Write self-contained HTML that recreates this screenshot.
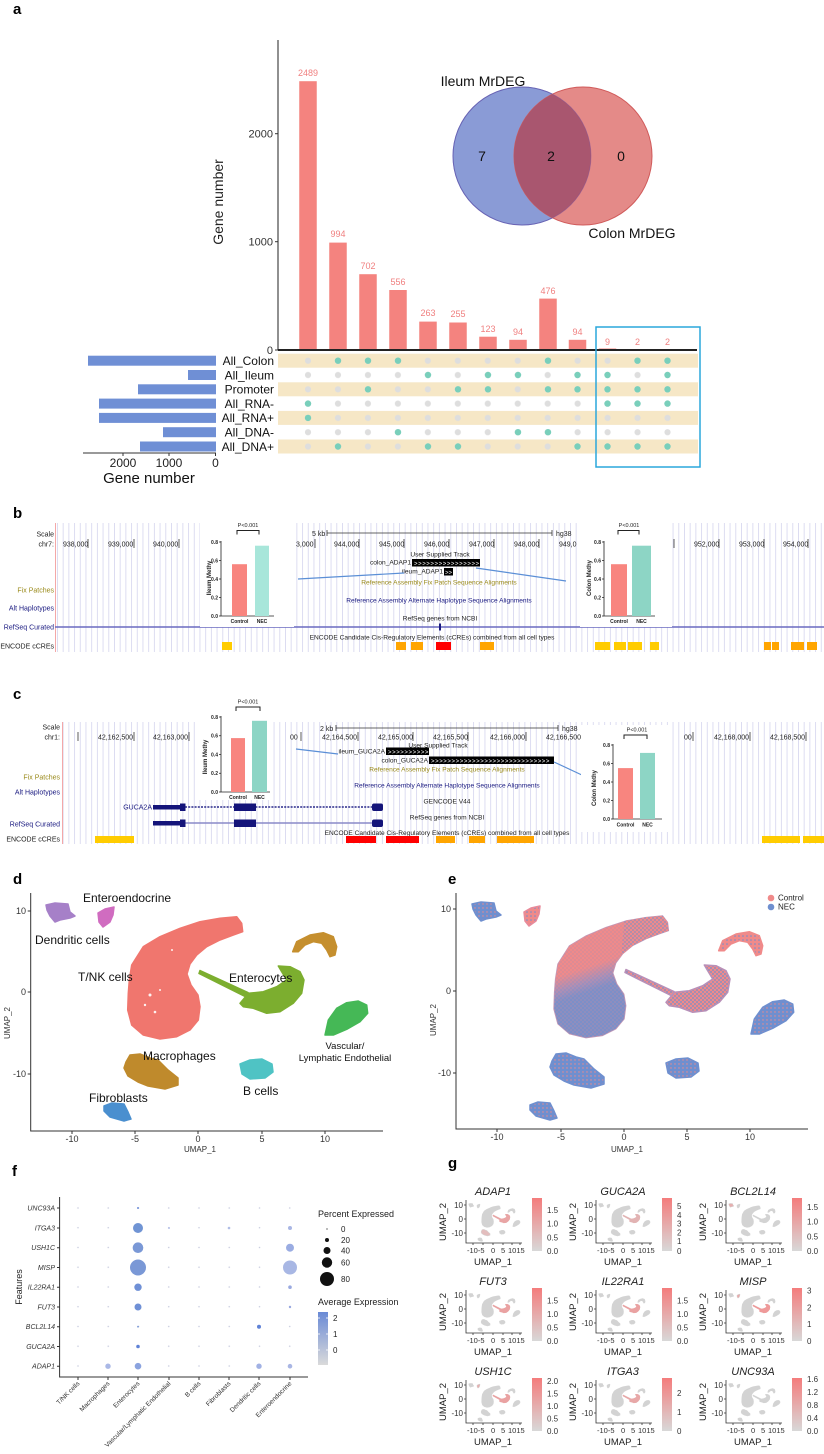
<!DOCTYPE html>
<html><head><meta charset="utf-8"><style>
html,body{margin:0;padding:0;background:#fff;}
svg{display:block;font-family:"Liberation Sans",Arial,sans-serif;}
</style></head><body>
<svg width="824" height="1454" viewBox="0 0 824 1454" xmlns="http://www.w3.org/2000/svg" xmlns:xlink="http://www.w3.org/1999/xlink">
<defs>
  <pattern id="gb" x="0" y="0" width="5.7" height="10" patternUnits="userSpaceOnUse"><rect x="0" y="0" width="0.9" height="10" fill="#d9d9f0"/></pattern>
  <pattern id="gdots" x="293" y="353.55" width="29.96" height="14.3" patternUnits="userSpaceOnUse"><circle cx="15" cy="7.15" r="3.1" fill="#dedede"/></pattern>
  <pattern id="fdots" x="63" y="1198" width="30.25" height="19.75" patternUnits="userSpaceOnUse"><circle cx="15" cy="10" r="0.7" fill="#c4c8dc"/></pattern>
  <pattern id="mixB" x="0" y="0" width="4" height="4" patternUnits="userSpaceOnUse"><rect width="4" height="4" fill="#6f8fcf"/><circle cx="1" cy="1" r="0.7" fill="#f08a8a"/></pattern>
  <pattern id="mixS" x="0" y="0" width="4" height="4" patternUnits="userSpaceOnUse"><rect width="4" height="4" fill="#f08a8a"/><circle cx="1" cy="1" r="0.8" fill="#6f8fcf"/></pattern>
  <pattern id="mixM" x="0" y="0" width="4" height="4" patternUnits="userSpaceOnUse"><rect width="4" height="4" fill="#f08a8a"/><circle cx="1" cy="1" r="0.9" fill="#6f8fcf"/><circle cx="3" cy="3" r="0.9" fill="#6f8fcf"/></pattern>
  <linearGradient id="tnkE" gradientUnits="userSpaceOnUse" x1="150" y1="930" x2="175" y2="1005">
    <stop offset="0" stop-color="#f08a8a"/><stop offset="0.5" stop-color="#f08a8a"/><stop offset="0.68" stop-color="#9c90c0"/><stop offset="0.8" stop-color="#6f8fcf"/><stop offset="1" stop-color="#6f8fcf"/>
  </linearGradient>
  <linearGradient id="fcb" x1="0" y1="0" x2="0" y2="1"><stop offset="0" stop-color="#6a8ad6"/><stop offset="1" stop-color="#dadada"/></linearGradient>
  <linearGradient id="gcb" x1="0" y1="0" x2="0" y2="1"><stop offset="0" stop-color="#f47c7c"/><stop offset="1" stop-color="#d8d8d8"/></linearGradient>
  <clipPath id="blueC"><circle cx="522" cy="156" r="69"/></clipPath>
  <clipPath id="tailC"><path d="M200,900 L260,900 L260,960 L195,960 Z"/></clipPath>

  <path id="tnk" d="M131.7,965 L143.3,946.7 L160,936.7 L180,928.3 L200,921.7 L220,918.3 L236.7,916.7 L241.7,923.3 L242.7,931.7 L233.3,935 L220,940 L206.7,946.7 L196.7,955 L190,964 L187,974 L191,985 L198,995 L200,1006.7 L198.3,1020 L190,1030 L176.7,1036.7 L160,1039 L143.3,1035 L131.7,1025 L127.7,1010 L128.3,993.3 L129.3,980 Z"/>
  <path id="ent" d="M200,970.5 L248,992.5 L246,997 L199,973.5 Z M240,1003.3 L248.3,993.3 L263.3,991.7 L276.7,986.7 L286.7,980 L281.7,971.7 L278.3,966 L290,966.7 L300,971.7 L304,980 L301.7,993.3 L293.3,1003.3 L280,1011.7 L266.7,1013.3 L253.3,1008.3 L243.3,1006.7 Z"/>
  <path id="brn" d="M292.7,951.7 L296.7,941.7 L310,935 L323.3,932.7 L333.3,936.7 L336.7,946.7 L335,955 L330,956.7 L326.7,950 L321.7,943.3 L313.3,941.7 L305,945 L298.3,951.7 Z"/>
  <path id="vas" d="M325,1035 L328.3,1020 L336.7,1008.3 L346.7,1002.7 L358.3,1001 L366.7,1005 L367.7,1013.3 L360,1021.7 L346.7,1029.3 L333.3,1035 Z"/>
  <path id="mac" d="M126,1062 L130,1055 L140,1054 L150,1058 L158,1060 L168,1070 L178,1078 L178,1085 L165,1089 L148,1086 L138,1082 L128,1076 L124,1068 Z"/>
  <path id="bce" d="M240,1064 L250,1060 L262,1059 L272,1064 L273,1072 L265,1078 L250,1079 L242,1074 Z"/>
  <path id="fib" d="M104,1106 L112,1103 L124,1104 L128,1112 L131,1119 L124,1121 L110,1117 L104,1111 Z"/>
  <path id="den" d="M46,905 L55,903 L68,904 L70,912 L75,916 L70,918 L60,920 L55,922 L50,916 L47,910 Z"/>
  <path id="eed" d="M98,913 L105,909 L114,907 L113,915 L110,922 L103,927 L99,922 Z"/>
  <g id="miniGrey" fill="#d3d3d3" stroke="#d3d3d3" stroke-width="6" stroke-linejoin="round">
    <use href="#tnk"/><use href="#ent"/><use href="#brn"/><use href="#vas"/><use href="#mac"/><use href="#bce"/><use href="#fib"/><use href="#den"/><use href="#eed"/>
  </g>
  <g id="miniHi" fill="#ef9a9a" stroke="#ef9a9a" stroke-width="6" stroke-linejoin="round"><use href="#ent"/></g>
</defs>

<!-- ================= PANEL A ================= -->
<text x="13" y="14" font-size="15" font-weight="bold">a</text>
<line x1="278" y1="40" x2="278" y2="350" stroke="#222" stroke-width="1"/>
<g stroke="#333" stroke-width="1"><line x1="275" y1="133.7" x2="278" y2="133.7"/><line x1="275" y1="241.7" x2="278" y2="241.7"/><line x1="275" y1="350" x2="278" y2="350"/></g>
<g font-size="11" fill="#333" text-anchor="end"><text x="273" y="137.5">2000</text><text x="273" y="245.5">1000</text><text x="273" y="354">0</text></g>
<text transform="translate(223,202) rotate(-90)" font-size="14" text-anchor="middle" fill="#222">Gene number</text>

<g fill="#f4837f">
<rect x="299.25" y="81.2" width="17.5" height="268.8"/>
<rect x="329.25" y="242.6" width="17.5" height="107.4"/>
<rect x="359.25" y="274.2" width="17.5" height="75.8"/>
<rect x="389.25" y="290" width="17.5" height="60"/>
<rect x="419.25" y="321.6" width="17.5" height="28.4"/>
<rect x="449.25" y="322.5" width="17.5" height="27.5"/>
<rect x="479.25" y="336.7" width="17.5" height="13.3"/>
<rect x="509.25" y="339.8" width="17.5" height="10.2"/>
<rect x="539.25" y="298.6" width="17.5" height="51.4"/>
<rect x="568.75" y="339.8" width="17.5" height="10.2"/>
<rect x="598.75" y="348.5" width="17.5" height="1.5"/>
</g>
<g font-size="9" fill="#f08080" text-anchor="middle">
<text x="308" y="76">2489</text><text x="338" y="237">994</text><text x="368" y="269">702</text><text x="398" y="285">556</text>
<text x="428" y="316">263</text><text x="458" y="317">255</text><text x="488" y="332">123</text><text x="518" y="335">94</text>
<text x="548" y="294">476</text><text x="577.5" y="335">94</text><text x="607.5" y="345">9</text><text x="637.5" y="345">2</text><text x="667.5" y="345">2</text>
</g>
<line x1="278" y1="350" x2="697" y2="350" stroke="#222" stroke-width="2"/>

<!-- Venn -->
<circle cx="522" cy="156" r="69" fill="#8a9bd6" stroke="#5e73c8" stroke-width="1"/>
<circle cx="583" cy="156" r="69" fill="#e48a88" stroke="#d05a5a" stroke-width="1"/>
<circle cx="583" cy="156" r="69" fill="#a9566f" clip-path="url(#blueC)"/>
<circle cx="522" cy="156" r="69" fill="none" stroke="#7a4f9a" stroke-width="0.8" opacity="0.5"/>
<g font-size="14" fill="#111" text-anchor="middle">
<text x="483" y="86">Ileum MrDEG</text><text x="632" y="238">Colon MrDEG</text>
<text x="482" y="161">7</text><text x="551" y="161">2</text><text x="621" y="161">0</text>
</g>

<!-- matrix -->
<g fill="#f6e7c6">
<rect x="278" y="353.7" width="420" height="14"/>
<rect x="278" y="382.3" width="420" height="14"/>
<rect x="278" y="410.9" width="420" height="14"/>
<rect x="278" y="439.5" width="420" height="14"/>
</g>
<rect x="293" y="353.55" width="390" height="100.1" fill="url(#gdots)"/>
<g fill="#79cfbb">
<circle cx="338" cy="360.7" r="3.2"/><circle cx="368" cy="360.7" r="3.2"/><circle cx="398" cy="360.7" r="3.2"/><circle cx="548" cy="360.7" r="3.2"/><circle cx="637.5" cy="360.7" r="3.2"/><circle cx="667.5" cy="360.7" r="3.2"/>
<circle cx="428" cy="375" r="3.2"/><circle cx="488" cy="375" r="3.2"/><circle cx="518" cy="375" r="3.2"/><circle cx="577.5" cy="375" r="3.2"/><circle cx="607.5" cy="375" r="3.2"/><circle cx="667.5" cy="375" r="3.2"/>
<circle cx="368" cy="389.3" r="3.2"/><circle cx="458" cy="389.3" r="3.2"/><circle cx="488" cy="389.3" r="3.2"/><circle cx="548" cy="389.3" r="3.2"/><circle cx="577.5" cy="389.3" r="3.2"/><circle cx="607.5" cy="389.3" r="3.2"/><circle cx="637.5" cy="389.3" r="3.2"/><circle cx="667.5" cy="389.3" r="3.2"/>
<circle cx="308" cy="403.6" r="3.2"/><circle cx="607.5" cy="403.6" r="3.2"/><circle cx="637.5" cy="403.6" r="3.2"/><circle cx="667.5" cy="403.6" r="3.2"/>
<circle cx="308" cy="417.9" r="3.2"/>
<circle cx="398" cy="432.2" r="3.2"/><circle cx="518" cy="432.2" r="3.2"/><circle cx="548" cy="432.2" r="3.2"/>
<circle cx="338" cy="446.5" r="3.2"/><circle cx="428" cy="446.5" r="3.2"/><circle cx="458" cy="446.5" r="3.2"/><circle cx="577.5" cy="446.5" r="3.2"/><circle cx="607.5" cy="446.5" r="3.2"/><circle cx="637.5" cy="446.5" r="3.2"/><circle cx="667.5" cy="446.5" r="3.2"/>
</g>
<g font-size="12" fill="#111" text-anchor="end">
<text x="274" y="365">All_Colon</text><text x="274" y="379.3">All_Ileum</text><text x="274" y="393.6">Promoter</text>
<text x="274" y="407.9">All_RNA-</text><text x="274" y="422.2">All_RNA+</text><text x="274" y="436.5">All_DNA-</text><text x="274" y="450.8">All_DNA+</text>
</g>
<g fill="#6f8fd5">
<rect x="88" y="355.7" width="128" height="10"/>
<rect x="188" y="370" width="28" height="10"/>
<rect x="138" y="384.3" width="78" height="10"/>
<rect x="99" y="398.6" width="117" height="10"/>
<rect x="99" y="412.9" width="117" height="10"/>
<rect x="163" y="427.2" width="53" height="10"/>
<rect x="140" y="441.5" width="76" height="10"/>
</g>
<line x1="83" y1="453" x2="216" y2="453" stroke="#333" stroke-width="1"/>
<g stroke="#333"><line x1="123" y1="453" x2="123" y2="456"/><line x1="169" y1="453" x2="169" y2="456"/><line x1="215.5" y1="453" x2="215.5" y2="456"/></g>
<g font-size="12" fill="#222" text-anchor="middle"><text x="123" y="467">2000</text><text x="169" y="467">1000</text><text x="215.5" y="467">0</text></g>
<text x="149" y="483" font-size="15" text-anchor="middle" fill="#111">Gene number</text>
<rect x="596" y="327" width="104" height="140" fill="none" stroke="#2aa7dc" stroke-width="1.5"/>

<!-- ================= PANEL B ================= -->
<text x="13" y="518" font-size="15" font-weight="bold">b</text>
<rect x="55" y="523" width="769" height="129" fill="url(#gb)"/>
<line x1="55.5" y1="523" x2="55.5" y2="652" stroke="#f4a8a8" stroke-width="1"/>
<g font-size="7" text-anchor="end">
<text x="54" y="536.5" fill="#222">Scale</text><text x="54" y="546.5" fill="#222">chr7:</text>
<text x="54" y="592.5" fill="#9a8a1a">Fix Patches</text><text x="54" y="610.5" fill="#1a1a80">Alt Haplotypes</text>
<text x="54" y="629.5" fill="#1a1a80">RefSeq Curated</text><text x="54" y="648.5" fill="#222">ENCODE cCREs</text>
</g>
<line x1="55" y1="627" x2="824" y2="627" stroke="#6a6ac0" stroke-width="1.6"/>
<rect x="439" y="623.5" width="2" height="7" fill="#1a1a80"/>
<g font-size="7" fill="#222">
<text x="63" y="546.5">938,000</text><text x="108" y="546.5">939,000</text><text x="153" y="546.5">940,000</text>
<text x="296" y="546.5">3,000</text><text x="334" y="546.5">944,000</text><text x="379" y="546.5">945,000</text><text x="424" y="546.5">946,000</text>
<text x="469" y="546.5">947,000</text><text x="514" y="546.5">948,000</text><text x="559" y="546.5">949,0</text>
<text x="694" y="546.5">952,000</text><text x="739" y="546.5">953,000</text><text x="783" y="546.5">954,000</text>
<text x="312" y="536">5 kb</text><text x="556" y="536">hg38</text>
</g>
<g stroke="#333" stroke-width="0.8">
<line x1="88" y1="539" x2="88" y2="548"/><line x1="134" y1="539" x2="134" y2="548"/><line x1="179" y1="539" x2="179" y2="548"/>
<line x1="315" y1="539" x2="315" y2="548"/><line x1="359" y1="539" x2="359" y2="548"/><line x1="404" y1="539" x2="404" y2="548"/><line x1="449" y1="539" x2="449" y2="548"/>
<line x1="494" y1="539" x2="494" y2="548"/><line x1="539" y1="539" x2="539" y2="548"/><line x1="674" y1="539" x2="674" y2="548"/>
<line x1="719" y1="539" x2="719" y2="548"/><line x1="764" y1="539" x2="764" y2="548"/><line x1="808" y1="539" x2="808" y2="548"/>
<path d="M327,530 V536 M327,533 H552 M552,530 V536" fill="none"/>
</g>
<g font-size="6.6" text-anchor="middle">
<text x="440" y="556.5" fill="#222">User Supplied Track</text>
<text x="439" y="584.5" fill="#9a8a1a">Reference Assembly Fix Patch Sequence Alignments</text>
<text x="439" y="602.5" fill="#1a1a80">Reference Assembly Alternate Haplotype Sequence Alignments</text>
<text x="440" y="620.5" fill="#222">RefSeq genes from NCBI</text>
<text x="432" y="639.5" fill="#222">ENCODE Candidate Cis-Regulatory Elements (cCREs) combined from all cell types</text>
</g>
<g font-size="6.6" fill="#222" text-anchor="end"><text x="411" y="564.5">colon_ADAP1</text><text x="443" y="573.5">ileum_ADAP1</text></g>
<rect x="412" y="559" width="68" height="7.5" fill="#000"/>
<rect x="444" y="568" width="9" height="7.5" fill="#000"/>
<text x="414" y="565.5" font-size="6" fill="#fff" letter-spacing="0.6">&gt;&gt;&gt;&gt;&gt;&gt;&gt;&gt;&gt;&gt;&gt;&gt;&gt;&gt;&gt;&gt;</text>
<text x="445" y="574.5" font-size="6" fill="#fff">&gt;&gt;</text>
<g>
<rect x="222" y="642" width="10" height="8" fill="#ffcc00"/>
<rect x="396" y="642" width="10" height="8" fill="#ffa500"/><rect x="411" y="642" width="12" height="8" fill="#ffa500"/>
<rect x="436" y="642" width="15" height="8" fill="#ff0000"/><rect x="480" y="642" width="14" height="8" fill="#ffa500"/>
<rect x="595" y="642" width="15" height="8" fill="#ffcc00"/><rect x="614" y="642" width="12" height="8" fill="#ffcc00"/><rect x="628" y="642" width="14" height="8" fill="#ffcc00"/><rect x="650" y="642" width="9" height="8" fill="#ffcc00"/>
<rect x="764" y="642" width="7" height="8" fill="#ffa500"/><rect x="772" y="642" width="7" height="8" fill="#ffa500"/><rect x="791" y="642" width="13" height="8" fill="#ffa500"/><rect x="807" y="642" width="10" height="8" fill="#ffa500"/>
</g>
<g stroke="#5b8fd6" stroke-width="1.2"><line x1="298" y1="579" x2="404" y2="573"/><line x1="476" y1="568" x2="566" y2="581"/></g>
<!-- b left inset -->
<rect x="200" y="521" width="94" height="106" fill="#fff"/>
<g stroke="#222" stroke-width="0.8" fill="none"><path d="M221,541 V616 H274"/>
<path d="M219,542 H221 M219,560.5 H221 M219,579 H221 M219,597.5 H221 M219,616 H221"/>
<path d="M237,534.5 V530.5 H259 V534.5" stroke-width="1"/></g>
<g font-size="5" font-weight="bold" fill="#222" text-anchor="end"><text x="218" y="544">0.8</text><text x="218" y="562.5">0.6</text><text x="218" y="581">0.4</text><text x="218" y="599.5">0.2</text><text x="218" y="618">0.0</text></g>
<rect x="232" y="564.2" width="15" height="51.8" fill="#f8857f"/>
<rect x="255" y="545.7" width="14" height="70.3" fill="#a8e6da"/>
<g font-size="5" font-weight="bold" fill="#222" text-anchor="middle"><text x="239.5" y="623">Control</text><text x="262" y="623">NEC</text></g>
<text x="248" y="527" font-size="5.5" fill="#222" text-anchor="middle">P&lt;0.001</text>
<text transform="translate(211,578) rotate(-90)" font-size="6" font-weight="bold" fill="#222" text-anchor="middle">Ileum Methy</text>
<!-- b right inset -->
<rect x="580" y="521" width="92" height="106" fill="#fff"/>
<g stroke="#222" stroke-width="0.8" fill="none"><path d="M604,541 V616 H655"/>
<path d="M602,542 H604 M602,560.5 H604 M602,579 H604 M602,597.5 H604 M602,616 H604"/>
<path d="M618,534.5 V530.5 H639 V534.5" stroke-width="1"/></g>
<g font-size="5" font-weight="bold" fill="#222" text-anchor="end"><text x="601" y="544">0.8</text><text x="601" y="562.5">0.6</text><text x="601" y="581">0.4</text><text x="601" y="599.5">0.2</text><text x="601" y="618">0.0</text></g>
<rect x="611" y="564.2" width="16" height="51.8" fill="#f8857f"/>
<rect x="632" y="545.7" width="19" height="70.3" fill="#8dd5c5"/>
<g font-size="5" font-weight="bold" fill="#222" text-anchor="middle"><text x="619" y="623">Control</text><text x="641.5" y="623">NEC</text></g>
<text x="629" y="527" font-size="5.5" fill="#222" text-anchor="middle">P&lt;0.001</text>
<text transform="translate(591,578) rotate(-90)" font-size="6" font-weight="bold" fill="#222" text-anchor="middle">Colon Methy</text>

<!-- ================= PANEL C ================= -->
<text x="13" y="699" font-size="15" font-weight="bold">c</text>
<rect x="62" y="722" width="762" height="122" fill="url(#gb)"/>
<line x1="62.5" y1="722" x2="62.5" y2="844" stroke="#f4a8a8" stroke-width="1"/>
<g font-size="7" text-anchor="end">
<text x="60" y="729.5" fill="#222">Scale</text><text x="60" y="739.5" fill="#222">chr1:</text>
<text x="60" y="779.5" fill="#9a8a1a">Fix Patches</text><text x="60" y="794.5" fill="#1a1a80">Alt Haplotypes</text>
<text x="60" y="826.5" fill="#1a1a80">RefSeq Curated</text><text x="60" y="841.5" fill="#222">ENCODE cCREs</text>
</g>
<g font-size="7" fill="#222">
<text x="98" y="739.5">42,162,500</text><text x="153" y="739.5">42,163,000</text><text x="290" y="739.5">00</text>
<text x="322" y="739.5">42,164,500</text><text x="378" y="739.5">42,165,000</text><text x="433" y="739.5">42,165,500</text>
<text x="490" y="739.5">42,166,000</text><text x="546" y="739.5">42,166,500</text><text x="684" y="739.5">00</text>
<text x="714" y="739.5">42,168,000</text><text x="770" y="739.5">42,168,500</text>
<text x="320" y="731">2 kb</text><text x="562" y="731">hg38</text>
</g>
<g stroke="#333" stroke-width="0.8">
<line x1="78" y1="732" x2="78" y2="741"/><line x1="134" y1="732" x2="134" y2="741"/><line x1="189" y1="732" x2="189" y2="741"/>
<line x1="301" y1="732" x2="301" y2="741"/><line x1="358" y1="732" x2="358" y2="741"/><line x1="413" y1="732" x2="413" y2="741"/>
<line x1="468" y1="732" x2="468" y2="741"/><line x1="526" y1="732" x2="526" y2="741"/><line x1="693" y1="732" x2="693" y2="741"/>
<line x1="750" y1="732" x2="750" y2="741"/><line x1="806" y1="732" x2="806" y2="741"/>
<path d="M336,725 V731 M336,728 H558 M558,725 V731" fill="none"/>
</g>
<g font-size="6.6" text-anchor="middle">
<text x="438" y="747.5" fill="#222">User Supplied Track</text>
<text x="447" y="771.5" fill="#9a8a1a">Reference Assembly Fix Patch Sequence Alignments</text>
<text x="447" y="787.5" fill="#1a1a80">Reference Assembly Alternate Haplotype Sequence Alignments</text>
<text x="447" y="803.5" fill="#222">GENCODE V44</text>
<text x="447" y="819.5" fill="#222">RefSeq genes from NCBI</text>
<text x="447" y="835" fill="#222">ENCODE Candidate Cis-Regulatory Elements (cCREs) combined from all cell types</text>
</g>
<g font-size="6.6" fill="#222" text-anchor="end"><text x="385" y="753.5">ileum_GUCA2A</text><text x="428" y="762.5">colon_GUCA2A</text></g>
<rect x="386" y="747.5" width="43" height="7.5" fill="#000"/>
<rect x="429" y="756.5" width="125" height="7.5" fill="#000"/>
<text x="388" y="754" font-size="6" fill="#fff" letter-spacing="0.6">&gt;&gt;&gt;&gt;&gt;&gt;&gt;&gt;&gt;&gt;</text>
<text x="431" y="763" font-size="6" fill="#fff" letter-spacing="0.6">&gt;&gt;&gt;&gt;&gt;&gt;&gt;&gt;&gt;&gt;&gt;&gt;&gt;&gt;&gt;&gt;&gt;&gt;&gt;&gt;&gt;&gt;&gt;&gt;&gt;&gt;&gt;&gt;&gt;</text>
<g stroke="#5b8fd6" stroke-width="1.2"><line x1="296" y1="749" x2="338" y2="754"/><line x1="554" y1="762" x2="584" y2="776"/></g>
<!-- gene models -->
<text x="152" y="809.5" font-size="7" fill="#1a1a80" text-anchor="end">GUCA2A</text>
<line x1="153" y1="807" x2="383" y2="807" stroke="#2a2a8a" stroke-width="1.4" stroke-dasharray="2,1.2"/>
<g fill="#14147a">
<rect x="153" y="805" width="27" height="4.5"/><rect x="180" y="803.5" width="5.5" height="7.5"/><rect x="234" y="803.5" width="22" height="7.5"/><rect x="372" y="803.5" width="11" height="7.5" rx="2"/>
</g>
<line x1="153" y1="823" x2="383" y2="823" stroke="#8a8ac8" stroke-width="1.4"/>
<g fill="#14147a">
<rect x="153" y="821" width="27" height="4.5"/><rect x="180" y="819.5" width="5.5" height="7.5"/><rect x="234" y="819.5" width="22" height="7.5"/><rect x="372" y="819.5" width="11" height="7.5" rx="2"/>
</g>
<g>
<rect x="95" y="836" width="39" height="7" fill="#ffcc00"/>
<rect x="346" y="836" width="30" height="7" fill="#ff0000"/><rect x="386" y="836" width="33" height="7" fill="#ff0000"/>
<rect x="436" y="836" width="19" height="7" fill="#ffa500"/><rect x="469" y="836" width="16" height="7" fill="#ffa500"/><rect x="497" y="836" width="37" height="7" fill="#ffa500"/>
<rect x="762" y="836" width="38" height="7" fill="#ffcc00"/><rect x="803" y="836" width="21" height="7" fill="#ffcc00"/>
</g>
<!-- c left inset -->
<rect x="195" y="695" width="77" height="105" fill="#fff"/>
<g stroke="#222" stroke-width="0.8" fill="none"><path d="M221,716 V792 H270"/>
<path d="M219,717 H221 M219,735.75 H221 M219,754.5 H221 M219,773.25 H221 M219,792 H221"/>
<path d="M236,711 V707 H260 V711" stroke-width="1"/></g>
<g font-size="5" font-weight="bold" fill="#222" text-anchor="end"><text x="218" y="719">0.8</text><text x="218" y="737.7">0.6</text><text x="218" y="756.5">0.4</text><text x="218" y="775.2">0.2</text><text x="218" y="794">0.0</text></g>
<rect x="231" y="738.1" width="14" height="53.9" fill="#f8857f"/>
<rect x="252" y="720.8" width="15" height="71.2" fill="#8dd5c5"/>
<g font-size="5" font-weight="bold" fill="#222" text-anchor="middle"><text x="238" y="799">Control</text><text x="259.5" y="799">NEC</text></g>
<text x="248" y="703.5" font-size="5.5" fill="#222" text-anchor="middle">P&lt;0.001</text>
<text transform="translate(207,757) rotate(-90)" font-size="6" font-weight="bold" fill="#222" text-anchor="middle">Ileum Methy</text>
<!-- c right inset -->
<rect x="581" y="725" width="87" height="107" fill="#fff"/>
<g stroke="#222" stroke-width="0.8" fill="none"><path d="M613,744 V819 H662"/>
<path d="M611,745 H613 M611,763.5 H613 M611,782 H613 M611,800.5 H613 M611,819 H613"/>
<path d="M624,739 V735 H647 V739" stroke-width="1"/></g>
<g font-size="5" font-weight="bold" fill="#222" text-anchor="end"><text x="610" y="747">0.8</text><text x="610" y="765.5">0.6</text><text x="610" y="784">0.4</text><text x="610" y="802.5">0.2</text><text x="610" y="821">0.0</text></g>
<rect x="618" y="768.1" width="15" height="50.9" fill="#f8857f"/>
<rect x="640" y="752.9" width="15" height="66.1" fill="#8dd5c5"/>
<g font-size="5" font-weight="bold" fill="#222" text-anchor="middle"><text x="625.5" y="826.5">Control</text><text x="647.5" y="826.5">NEC</text></g>
<text x="637" y="731.5" font-size="5.5" fill="#222" text-anchor="middle">P&lt;0.001</text>
<text transform="translate(596,788) rotate(-90)" font-size="6" font-weight="bold" fill="#222" text-anchor="middle">Colon Methy</text>

<!-- ================= PANEL D ================= -->
<text x="13" y="884" font-size="15" font-weight="bold">d</text>
<g stroke-linejoin="round" stroke-width="1.5">
<use href="#tnk" fill="#f0766e" stroke="#f0766e"/>
<use href="#ent" fill="#7cae2f" stroke="#7cae2f"/>
<use href="#brn" fill="#c58f2e" stroke="#c58f2e"/>
<use href="#vas" fill="#45b856" stroke="#45b856"/>
<use href="#mac" fill="#bf8a2c" stroke="#bf8a2c"/>
<use href="#bce" fill="#4fc3c4" stroke="#4fc3c4"/>
<use href="#fib" fill="#4a8fcf" stroke="#4a8fcf"/>
<use href="#den" fill="#a680c8" stroke="#a680c8"/>
<use href="#eed" fill="#d06cc0" stroke="#d06cc0"/>
</g>
<g fill="#fff" opacity="0.9"><circle cx="150" cy="995" r="1.5"/><circle cx="145" cy="1005" r="1.2"/><circle cx="160" cy="990" r="1"/><circle cx="172" cy="950" r="1"/><circle cx="155" cy="1012" r="1.3"/></g>
<g stroke="#333" stroke-width="1" fill="none"><path d="M30.7,893 V1131 H383"/>
<path d="M27.7,911 H30.7 M27.7,992 H30.7 M27.7,1074 H30.7 M72,1131 V1134 M135,1131 V1134 M198,1131 V1134 M262,1131 V1134 M325,1131 V1134"/></g>
<g font-size="9" fill="#333"><g text-anchor="end"><text x="26" y="914">10</text><text x="26" y="995">0</text><text x="26" y="1077">-10</text></g>
<g text-anchor="middle"><text x="72" y="1142">-10</text><text x="135" y="1142">-5</text><text x="198" y="1142">0</text><text x="262" y="1142">5</text><text x="325" y="1142">10</text></g></g>
<text x="200" y="1152" font-size="8" fill="#333" text-anchor="middle">UMAP_1</text>
<text transform="translate(10,1023) rotate(-90)" font-size="8" fill="#333" text-anchor="middle">UMAP_2</text>
<g font-size="12" fill="#111">
<text x="83" y="902">Enteroendocrine</text><text x="35" y="944">Dendritic cells</text><text x="78" y="981">T/NK cells</text>
<text x="229" y="982">Enterocytes</text><text x="143" y="1060">Macrophages</text><text x="243" y="1095">B cells</text><text x="89" y="1102">Fibroblasts</text>
</g>
<g font-size="9.5" fill="#111" text-anchor="middle"><text x="345" y="1049">Vascular/</text><text x="345" y="1061">Lymphatic Endothelial</text></g>

<!-- ================= PANEL E ================= -->
<text x="448" y="884" font-size="15" font-weight="bold">e</text>
<g transform="translate(426,-1)" stroke-linejoin="round" stroke-width="1.5">
<use href="#tnk" fill="url(#tnkE)" stroke="#c49ab8" stroke-width="0.8"/>
<use href="#tnk" fill="url(#mixM)" opacity="0.25"/>
<g clip-path="url(#tailC)"><use href="#tnk" fill="url(#mixM)" opacity="0.75"/></g>
<use href="#ent" fill="url(#mixM)" stroke="#b890b8"/>
<use href="#brn" fill="url(#mixS)" stroke="#f08a8a"/>
<use href="#vas" fill="url(#mixB)" stroke="#6f8fcf"/>
<use href="#mac" fill="url(#mixB)" stroke="#6f8fcf"/>
<use href="#bce" fill="url(#mixB)" stroke="#6f8fcf"/>
<use href="#fib" fill="url(#mixB)" stroke="#6f8fcf"/>
<use href="#den" fill="url(#mixB)" stroke="#6f8fcf"/>
<use href="#eed" fill="url(#mixS)" stroke="#e88a9a"/>
</g>
<g stroke="#333" stroke-width="1" fill="none"><path d="M456,893 V1129 H808"/>
<path d="M453,909 H456 M453,991 H456 M453,1073 H456 M497,1129 V1132 M561,1129 V1132 M624,1129 V1132 M687,1129 V1132 M750,1129 V1132"/></g>
<g font-size="9" fill="#333"><g text-anchor="end"><text x="451" y="912">10</text><text x="451" y="994">0</text><text x="451" y="1076">-10</text></g>
<g text-anchor="middle"><text x="497" y="1140">-10</text><text x="561" y="1140">-5</text><text x="624" y="1140">0</text><text x="687" y="1140">5</text><text x="750" y="1140">10</text></g></g>
<text x="627" y="1152" font-size="8" fill="#333" text-anchor="middle">UMAP_1</text>
<text transform="translate(436,1020) rotate(-90)" font-size="8" fill="#333" text-anchor="middle">UMAP_2</text>
<circle cx="771" cy="898" r="3.3" fill="#f08a8a"/><circle cx="771" cy="907" r="3.3" fill="#6f8fcf"/>
<g font-size="8" fill="#222"><text x="778" y="900.5">Control</text><text x="778" y="909.5">NEC</text></g>

<!-- ================= PANEL F ================= -->
<text x="12" y="1176" font-size="15" font-weight="bold">f</text>
<rect x="63" y="1198" width="242" height="178" fill="url(#fdots)"/>
<g>
<circle cx="138" cy="1208" r="1" fill="#6f8fd8"/>
<circle cx="138" cy="1228" r="5" fill="#7094d4"/>
<circle cx="138" cy="1247.7" r="5.3" fill="#7a98d6"/>
<circle cx="138" cy="1267.5" r="8" fill="#7a98d6"/>
<circle cx="138" cy="1287.2" r="3.7" fill="#6f90d6"/>
<circle cx="138" cy="1307" r="3.5" fill="#6f90d6"/>
<circle cx="138" cy="1326.7" r="0.9" fill="#7a98d6"/>
<circle cx="138" cy="1346.5" r="1.8" fill="#5f82d6"/>
<circle cx="138" cy="1366.2" r="3.3" fill="#8ba3df"/>
<circle cx="290" cy="1228" r="2" fill="#a9b6e4"/>
<circle cx="290" cy="1247.7" r="4" fill="#9aace2"/>
<circle cx="290" cy="1267.5" r="7" fill="#a8b7e4"/>
<circle cx="290" cy="1287.2" r="1.8" fill="#99a9e0"/>
<circle cx="290" cy="1307" r="1.2" fill="#99a9e0"/>
<circle cx="290" cy="1366.2" r="2.3" fill="#a9b6e4"/>
<circle cx="108" cy="1366.2" r="2.7" fill="#aab8e6"/>
<circle cx="259" cy="1326.7" r="2" fill="#5f82d6"/>
<circle cx="259" cy="1366.2" r="2.7" fill="#a1b1e4"/>
<circle cx="169" cy="1228" r="1" fill="#b5c0e8"/>
<circle cx="229" cy="1228" r="1.3" fill="#b0bde6"/>
</g>
<g stroke="#333" stroke-width="1" fill="none"><path d="M59.6,1197 V1377 H308"/>
<path d="M57,1208 H59.6 M57,1228 H59.6 M57,1247.7 H59.6 M57,1267.5 H59.6 M57,1287.2 H59.6 M57,1307 H59.6 M57,1326.7 H59.6 M57,1346.5 H59.6 M57,1366.2 H59.6"/>
<path d="M78,1377 V1380 M108,1377 V1380 M138,1377 V1380 M169,1377 V1380 M199,1377 V1380 M229,1377 V1380 M259,1377 V1380 M290,1377 V1380"/></g>
<g font-size="7" font-style="italic" fill="#333" text-anchor="end">
<text x="55" y="1210.5">UNC93A</text><text x="55" y="1230.5">ITGA3</text><text x="55" y="1250.2">USH1C</text><text x="55" y="1270">MISP</text>
<text x="55" y="1289.7">IL22RA1</text><text x="55" y="1309.5">FUT3</text><text x="55" y="1329.2">BCL2L14</text><text x="55" y="1349">GUCA2A</text><text x="55" y="1368.7">ADAP1</text>
</g>
<text transform="translate(22,1287) rotate(-90)" font-size="9" fill="#222" text-anchor="middle">Features</text>
<g font-size="6.5" fill="#333" text-anchor="end">
<text transform="translate(80,1384) rotate(-45)">T/NK cells</text>
<text transform="translate(110,1384) rotate(-45)">Macrophages</text>
<text transform="translate(140,1384) rotate(-45)">Enterocytes</text>
<text transform="translate(171,1384) rotate(-45)">Vascular/Lymphatic Endothelial</text>
<text transform="translate(201,1384) rotate(-45)">B cells</text>
<text transform="translate(231,1384) rotate(-45)">Fibroblasts</text>
<text transform="translate(261,1384) rotate(-45)">Dendritic cells</text>
<text transform="translate(292,1384) rotate(-45)">Enteroendocrine</text>
</g>
<text x="318" y="1217" font-size="9" fill="#222">Percent Expressed</text>
<g fill="#111"><circle cx="327" cy="1229" r="0.6"/><circle cx="327" cy="1240" r="2"/><circle cx="327" cy="1250.5" r="3.5"/><circle cx="327" cy="1262.5" r="5.2"/><circle cx="327" cy="1279" r="7"/></g>
<g font-size="8" fill="#222"><text x="341" y="1232">0</text><text x="341" y="1243">20</text><text x="341" y="1253.5">40</text><text x="341" y="1265.5">60</text><text x="341" y="1282">80</text></g>
<text x="318" y="1305" font-size="9" fill="#222">Average Expression</text>
<rect x="318" y="1312" width="10" height="53" fill="url(#fcb)"/>
<g stroke="#fff" stroke-width="0.8"><line x1="318" y1="1318" x2="320" y2="1318"/><line x1="326" y1="1318" x2="328" y2="1318"/><line x1="318" y1="1334" x2="320" y2="1334"/><line x1="326" y1="1334" x2="328" y2="1334"/><line x1="318" y1="1350" x2="320" y2="1350"/><line x1="326" y1="1350" x2="328" y2="1350"/></g>
<g font-size="8" fill="#222"><text x="333" y="1321">2</text><text x="333" y="1337">1</text><text x="333" y="1353">0</text></g>

<!-- ================= PANEL G ================= -->
<text x="448" y="1168" font-size="15" font-weight="bold">g</text>

<g transform="translate(493,1219) scale(0.158,0.172) translate(-198,-992)"><use href="#miniGrey"/><use href="#miniHi" opacity="0.8"/><use href="#mac" fill="#efb0b0" opacity="0.6"/></g>
<g transform="translate(623,1219) scale(0.158,0.172) translate(-198,-992)"><use href="#miniGrey"/><use href="#miniHi" opacity="0.55"/></g>
<g transform="translate(753,1219) scale(0.158,0.172) translate(-198,-992)"><use href="#miniGrey"/><use href="#den" fill="#efa0a0" opacity="0.7"/></g>
<g transform="translate(493,1309) scale(0.158,0.172) translate(-198,-992)"><use href="#miniGrey"/><use href="#miniHi" opacity="0.85"/></g>
<g transform="translate(623,1309) scale(0.158,0.172) translate(-198,-992)"><use href="#miniGrey"/><use href="#miniHi" opacity="0.85"/></g>
<g transform="translate(753,1309) scale(0.158,0.172) translate(-198,-992)"><use href="#miniGrey"/><use href="#miniHi"/><use href="#eed" fill="#efa0a0" opacity="0.8"/></g>
<g transform="translate(493,1399) scale(0.158,0.172) translate(-198,-992)"><use href="#miniGrey"/><use href="#miniHi" opacity="0.85"/><use href="#eed" fill="#efa0a0" opacity="0.7"/></g>
<g transform="translate(623,1399) scale(0.158,0.172) translate(-198,-992)"><use href="#miniGrey"/><use href="#miniHi" opacity="0.75"/></g>
<g transform="translate(753,1399) scale(0.158,0.172) translate(-198,-992)"><use href="#miniGrey"/></g>

<g stroke="#333" stroke-width="0.8" fill="none">
<path d="M466,1200 V1243 H522 M464,1205 H466 M464,1219 H466 M464,1233 H466 M473,1243 V1245 M483,1243 V1245 M493,1243 V1245 M503,1243 V1245 M512,1243 V1245 M520,1243 V1245"/>
<path d="M596,1200 V1243 H652 M594,1205 H596 M594,1219 H596 M594,1233 H596 M603,1243 V1245 M613,1243 V1245 M623,1243 V1245 M633,1243 V1245 M642,1243 V1245 M650,1243 V1245"/>
<path d="M726,1200 V1243 H782 M724,1205 H726 M724,1219 H726 M724,1233 H726 M733,1243 V1245 M743,1243 V1245 M753,1243 V1245 M763,1243 V1245 M772,1243 V1245 M780,1243 V1245"/>
<path d="M466,1290 V1333 H522 M464,1295 H466 M464,1309 H466 M464,1323 H466 M473,1333 V1335 M483,1333 V1335 M493,1333 V1335 M503,1333 V1335 M512,1333 V1335 M520,1333 V1335"/>
<path d="M596,1290 V1333 H652 M594,1295 H596 M594,1309 H596 M594,1323 H596 M603,1333 V1335 M613,1333 V1335 M623,1333 V1335 M633,1333 V1335 M642,1333 V1335 M650,1333 V1335"/>
<path d="M726,1290 V1333 H782 M724,1295 H726 M724,1309 H726 M724,1323 H726 M733,1333 V1335 M743,1333 V1335 M753,1333 V1335 M763,1333 V1335 M772,1333 V1335 M780,1333 V1335"/>
<path d="M466,1380 V1423 H522 M464,1385 H466 M464,1399 H466 M464,1413 H466 M473,1423 V1425 M483,1423 V1425 M493,1423 V1425 M503,1423 V1425 M512,1423 V1425 M520,1423 V1425"/>
<path d="M596,1380 V1423 H652 M594,1385 H596 M594,1399 H596 M594,1413 H596 M603,1423 V1425 M613,1423 V1425 M623,1423 V1425 M633,1423 V1425 M642,1423 V1425 M650,1423 V1425"/>
<path d="M726,1380 V1423 H782 M724,1385 H726 M724,1399 H726 M724,1413 H726 M733,1423 V1425 M743,1423 V1425 M753,1423 V1425 M763,1423 V1425 M772,1423 V1425 M780,1423 V1425"/>
</g>
<g font-size="11" font-style="italic" fill="#222" text-anchor="middle">
<text x="493" y="1195">ADAP1</text><text x="623" y="1195">GUCA2A</text><text x="753" y="1195">BCL2L14</text>
<text x="493" y="1285">FUT3</text><text x="623" y="1285">IL22RA1</text><text x="753" y="1285">MISP</text>
<text x="493" y="1375">USH1C</text><text x="623" y="1375">ITGA3</text><text x="753" y="1375">UNC93A</text>
</g>
<g font-size="8" fill="#333" text-anchor="end">
<text x="463" y="1208">10</text><text x="463" y="1222">0</text><text x="463" y="1236">-10</text>
<text x="593" y="1208">10</text><text x="593" y="1222">0</text><text x="593" y="1236">-10</text>
<text x="723" y="1208">10</text><text x="723" y="1222">0</text><text x="723" y="1236">-10</text>
<text x="463" y="1298">10</text><text x="463" y="1312">0</text><text x="463" y="1326">-10</text>
<text x="593" y="1298">10</text><text x="593" y="1312">0</text><text x="593" y="1326">-10</text>
<text x="723" y="1298">10</text><text x="723" y="1312">0</text><text x="723" y="1326">-10</text>
<text x="463" y="1388">10</text><text x="463" y="1402">0</text><text x="463" y="1416">-10</text>
<text x="593" y="1388">10</text><text x="593" y="1402">0</text><text x="593" y="1416">-10</text>
<text x="723" y="1388">10</text><text x="723" y="1402">0</text><text x="723" y="1416">-10</text>
</g>
<g font-size="7.5" fill="#333">
<text x="467" y="1253">-10-5</text><text x="491" y="1253">0</text><text x="501" y="1253">5</text><text x="508" y="1253">1015</text>
<text x="597" y="1253">-10-5</text><text x="621" y="1253">0</text><text x="631" y="1253">5</text><text x="638" y="1253">1015</text>
<text x="727" y="1253">-10-5</text><text x="751" y="1253">0</text><text x="761" y="1253">5</text><text x="768" y="1253">1015</text>
<text x="467" y="1343">-10-5</text><text x="491" y="1343">0</text><text x="501" y="1343">5</text><text x="508" y="1343">1015</text>
<text x="597" y="1343">-10-5</text><text x="621" y="1343">0</text><text x="631" y="1343">5</text><text x="638" y="1343">1015</text>
<text x="727" y="1343">-10-5</text><text x="751" y="1343">0</text><text x="761" y="1343">5</text><text x="768" y="1343">1015</text>
<text x="467" y="1433">-10-5</text><text x="491" y="1433">0</text><text x="501" y="1433">5</text><text x="508" y="1433">1015</text>
<text x="597" y="1433">-10-5</text><text x="621" y="1433">0</text><text x="631" y="1433">5</text><text x="638" y="1433">1015</text>
<text x="727" y="1433">-10-5</text><text x="751" y="1433">0</text><text x="761" y="1433">5</text><text x="768" y="1433">1015</text>
</g>
<g font-size="9.5" fill="#222" text-anchor="middle">
<text x="493" y="1265">UMAP_1</text><text x="623" y="1265">UMAP_1</text><text x="753" y="1265">UMAP_1</text>
<text x="493" y="1355">UMAP_1</text><text x="623" y="1355">UMAP_1</text><text x="753" y="1355">UMAP_1</text>
<text x="493" y="1445">UMAP_1</text><text x="623" y="1445">UMAP_1</text><text x="753" y="1445">UMAP_1</text>
<text transform="translate(446,1222) rotate(-90)">UMAP_2</text><text transform="translate(576,1222) rotate(-90)">UMAP_2</text><text transform="translate(706,1222) rotate(-90)">UMAP_2</text>
<text transform="translate(446,1312) rotate(-90)">UMAP_2</text><text transform="translate(576,1312) rotate(-90)">UMAP_2</text><text transform="translate(706,1312) rotate(-90)">UMAP_2</text>
<text transform="translate(446,1402) rotate(-90)">UMAP_2</text><text transform="translate(576,1402) rotate(-90)">UMAP_2</text><text transform="translate(706,1402) rotate(-90)">UMAP_2</text>
</g>
<g fill="url(#gcb)">
<rect x="532" y="1198" width="10" height="53"/><rect x="662" y="1198" width="10" height="53"/><rect x="792" y="1198" width="10" height="53"/>
<rect x="532" y="1288" width="10" height="53"/><rect x="662" y="1288" width="10" height="53"/><rect x="792" y="1288" width="10" height="53"/>
<rect x="532" y="1378" width="10" height="53"/><rect x="662" y="1378" width="10" height="53"/><rect x="792" y="1378" width="10" height="53"/>
</g>
<g font-size="8" fill="#333">
<text x="547" y="1213">1.5</text><text x="547" y="1226.7">1.0</text><text x="547" y="1240.3">0.5</text><text x="547" y="1254">0.0</text>
<text x="677" y="1209">5</text><text x="677" y="1217.8">4</text><text x="677" y="1226.6">3</text><text x="677" y="1235.4">2</text><text x="677" y="1244.2">1</text><text x="677" y="1254">0</text>
<text x="807" y="1210">1.5</text><text x="807" y="1224.7">1.0</text><text x="807" y="1239.3">0.5</text><text x="807" y="1254">0.0</text>
<text x="547" y="1303.7">1.5</text><text x="547" y="1317.1">1.0</text><text x="547" y="1330.6">0.5</text><text x="547" y="1344">0.0</text>
<text x="677" y="1303.7">1.5</text><text x="677" y="1317.1">1.0</text><text x="677" y="1330.6">0.5</text><text x="677" y="1344">0.0</text>
<text x="807" y="1293.7">3</text><text x="807" y="1310.5">2</text><text x="807" y="1327.2">1</text><text x="807" y="1344">0</text>
<text x="547" y="1384">2.0</text><text x="547" y="1396.5">1.5</text><text x="547" y="1409">1.0</text><text x="547" y="1421.5">0.5</text><text x="547" y="1434">0.0</text>
<text x="677" y="1396">2</text><text x="677" y="1415">1</text><text x="677" y="1434">0</text>
<text x="807" y="1382">1.6</text><text x="807" y="1395">1.2</text><text x="807" y="1408">0.8</text><text x="807" y="1421">0.4</text><text x="807" y="1434">0.0</text>
</g>
</svg>
</body></html>
